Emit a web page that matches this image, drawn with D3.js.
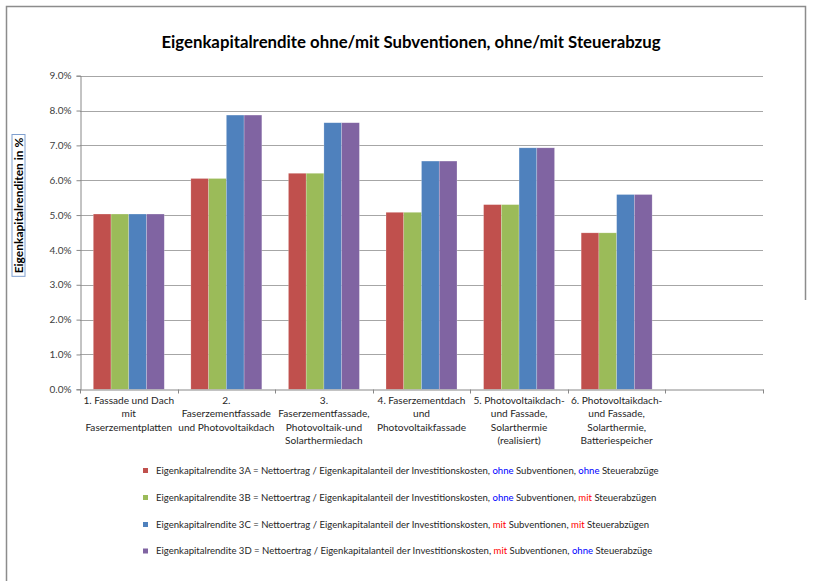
<!DOCTYPE html>
<html>
<head>
<meta charset="utf-8">
<script src="https://cdn.jsdelivr.net/npm/d3@7"></script>
<style>
  html, body { margin: 0; padding: 0; background: #fff; }
  svg { display: block; font-family: Lato, "Open Sans", sans-serif; }
</style>
</head>
<body>
<svg id="chart" width="813" height="581"></svg>
<script>
// ---- data ----
const categories = ["c1", "c2", "c3", "c4", "c5", "c6", "c7"];
const categoryLabels = [
  ["1. Fassade und Dach", "mit", "Faserzementplatten"],
  ["2.", "Faserzementfassade", "und Photovoltaikdach"],
  ["3.", "Faserzementfassade,", "Photovoltaik-und", "Solarthermiedach"],
  ["4. Faserzementdach", "und", "Photovoltaikfassade"],
  ["5. Photovoltaikdach-", "und Fassade,", "Solarthermie", "(realisiert)"],
  ["6. Photovoltaikdach-", "und Fassade,", "Solarthermie,", "Batteriespeicher"],
  []
];
const seriesNames = ["3A", "3B", "3C", "3D"];
const values3A = [5.03, 6.05, 6.20, 5.08, 5.30, 4.49, null];
const values3B = [5.03, 6.05, 6.20, 5.08, 5.30, 4.49, null];
const values3C = [5.03, 7.87, 7.65, 6.55, 6.93, 5.59, null];
const values3D = [5.03, 7.87, 7.65, 6.55, 6.93, 5.59, null];
const seriesValues = [values3A, values3B, values3C, values3D];
const seriesColors = ["#C0504D", "#9BBB59", "#4F81BD", "#8064A2"];
const yTicks = [0, 1, 2, 3, 4, 5, 6, 7, 8, 9];
const legendLabels = [
  [["Eigenkapitalrendite 3A = Nettoertrag / Eigenkapitalanteil der Investitionskosten, ", "k"], ["ohne", "b"], [" Subventionen, ", "k"], ["ohne", "b"], [" Steuerabzüge", "k"]],
  [["Eigenkapitalrendite 3B = Nettoertrag / Eigenkapitalanteil der Investitionskosten, ", "k"], ["ohne", "b"], [" Subventionen, ", "k"], ["mit", "r"], [" Steuerabzügen", "k"]],
  [["Eigenkapitalrendite 3C = Nettoertrag / Eigenkapitalanteil der Investitionskosten, ", "k"], ["mit", "r"], [" Subventionen, ", "k"], ["mit", "r"], [" Steuerabzügen", "k"]],
  [["Eigenkapitalrendite 3D = Nettoertrag / Eigenkapitalanteil der Investitionskosten, ", "k"], ["mit", "r"], [" Subventionen, ", "k"], ["ohne", "b"], [" Steuerabzüge", "k"]]
];
const titleText = "Eigenkapitalrendite ohne/mit Subventionen, ohne/mit Steuerabzug";
const yAxisTitle = "Eigenkapitalrenditen in %";

// ---- layout ----
const svg = d3.select("#chart");
const plot = { left: 80, right: 763, top: 75.7, bottom: 389.3 };

// frame
svg.append("path")
  .attr("d", "M6.5,590 L6.5,6.5 L805.5,6.5 L805.5,300")
  .attr("fill", "none").attr("stroke", "#8c8c8c").attr("stroke-width", 1.5);

// title
svg.append("text")
  .attr("x", 411).attr("y", 48)
  .attr("text-anchor", "middle")
  .attr("font-size", 16.8).attr("font-weight", "bold")
  .attr("fill", "#000")
  .text(titleText);

const x0 = d3.scaleBand().domain(categories).range([plot.left, plot.right]).paddingInner(0).paddingOuter(0);
const x1 = d3.scaleBand().domain(seriesNames).range([0, x0.bandwidth()]).paddingInner(0).paddingOuter(0.75);
const y = d3.scaleLinear().domain([0, 9]).range([plot.bottom, plot.top]);

// gridlines
svg.append("g").selectAll("line").data(yTicks.filter(d => d > 0)).join("line")
  .attr("x1", plot.left).attr("x2", plot.right)
  .attr("y1", d => Math.round(y(d)) + 0.5).attr("y2", d => Math.round(y(d)) + 0.5)
  .attr("stroke", "#a6a6a6").attr("stroke-width", 1);

// bars
const groups = svg.append("g").selectAll("g").data(categories).join("g")
  .attr("transform", d => `translate(${x0(d)},0)`);
groups.selectAll("rect")
  .data((d, i) => seriesNames.map((s, j) => ({ s, j, v: seriesValues[j][i] })).filter(o => o.v != null))
  .join("rect")
  .attr("x", o => x1(o.s))
  .attr("width", x1.bandwidth())
  .attr("y", o => y(o.v))
  .attr("height", o => y(0) - y(o.v))
  .attr("fill", o => seriesColors[o.j])
  .attr("stroke", "rgba(255,255,255,0.35)")
  .attr("stroke-width", 0.6);

// y axis
const yAxis = d3.axisLeft(y).tickValues(yTicks).tickFormat(d => d.toFixed(1) + "%").tickSize(4).tickPadding(5);
const gy = svg.append("g").attr("transform", `translate(${plot.left + 0.5},0)`).call(yAxis);
gy.select(".domain").attr("stroke", "#888");
gy.selectAll(".tick line").attr("stroke", "#888");
gy.selectAll(".tick text").attr("font-size", 10).attr("fill", "#404040").attr("font-family", "Lato, sans-serif");

// x axis
const xAxis = d3.axisBottom(x0).tickSize(0).tickFormat("");
const gx = svg.append("g").attr("transform", `translate(0,${Math.round(plot.bottom) + 0.5})`).call(xAxis);
gx.select(".domain").attr("stroke", "#888");
gx.selectAll(".bound").data(categories).join("line").attr("class", "bound")
  .attr("x1", d => Math.round(x0(d) + x0.bandwidth()) + 0.5)
  .attr("x2", d => Math.round(x0(d) + x0.bandwidth()) + 0.5)
  .attr("y1", 0).attr("y2", 4).attr("stroke", "#888");
gx.append("line").attr("x1", plot.left + 0.5).attr("x2", plot.left + 0.5).attr("y1", 0).attr("y2", 4).attr("stroke", "#888");

// category labels
categories.forEach((c, i) => {
  const t = svg.append("text")
    .attr("x", x0(c) + x0.bandwidth() / 2)
    .attr("y", 404)
    .attr("text-anchor", "middle")
    .attr("font-size", 10.1).attr("fill", "#262626");
  categoryLabels[i].forEach((line, k) => {
    t.append("tspan").attr("x", x0(c) + x0.bandwidth() / 2).attr("dy", k === 0 ? 0 : 13.4).text(line);
  });
});

// y axis title with box
const yt = svg.append("g").attr("transform", "translate(18.5,205.5) rotate(-90)");
const ytText = yt.append("text")
  .attr("x", 0).attr("y", 4.3)
  .attr("text-anchor", "middle")
  .attr("font-size", 12).attr("font-weight", "bold").attr("fill", "#000")
  .text(yAxisTitle);
const bb = ytText.node().getBBox();
yt.insert("rect", "text")
  .attr("x", bb.x - 3).attr("y", -6.5).attr("width", bb.width + 6).attr("height", 13)
  .attr("fill", "#fff").attr("stroke", "#7f9fcf").attr("stroke-width", 1);

// legend
const colorMap = { k: "#262626", b: "#0000ff", r: "#ff0000" };
const legendY = [470.5, 497.5, 524.5, 551];
legendLabels.forEach((parts, i) => {
  svg.append("rect")
    .attr("x", 143).attr("y", legendY[i] - 2.5).attr("width", 5).attr("height", 5)
    .attr("fill", seriesColors[i]);
  const t = svg.append("text").attr("x", 156).attr("y", legendY[i] + 3.4)
    .attr("font-size", 9.55).attr("fill", "#262626");
  parts.forEach(([txt, c]) => {
    t.append("tspan").attr("fill", colorMap[c]).text(txt);
  });
});
</script>
</body>
</html>
